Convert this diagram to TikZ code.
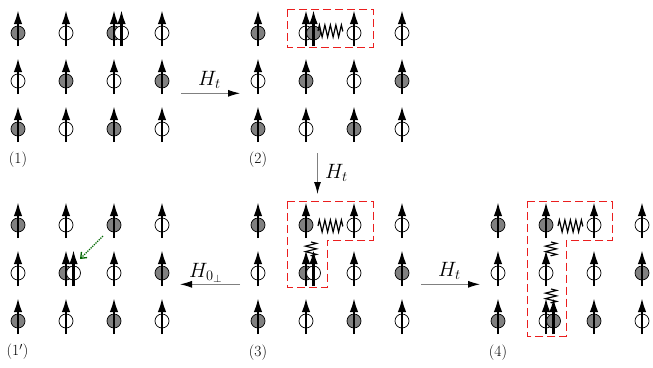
\documentclass[tikz,border=0pt]{standalone}
\usetikzlibrary{arrows.meta,decorations.pathmorphing}
\definecolor{boxred}{RGB}{235,30,30}
\tikzset{
  fullc/.style={circle,draw=black,fill=gray,line width=0.7pt,minimum size=14pt,inner sep=0pt},
  openc/.style={circle,draw=black,fill=white,line width=0.7pt,minimum size=14pt,inner sep=0pt},
  spinarrow/.style={line width=2.2pt,-{Latex[length=14pt,width=8.5pt]}},
  hop/.style={draw=gray,line width=0.9pt,-{Latex[length=12pt,width=7pt,color=black]}},
  hspring/.style={decorate,decoration={zigzag,segment length=5.5pt,amplitude=6pt},line width=1.2pt},
  vspring/.style={decorate,decoration={zigzag,segment length=5.5pt,amplitude=5.5pt},line width=1.2pt},
  regbox/.style={draw=boxred,color=boxred,dash pattern=on 8pt off 4pt,line width=1pt},
  panellabel/.style={font=\fontsize{15.5}{18}\selectfont,inner sep=0pt},
  hlabel/.style={font=\fontsize{21}{25}\selectfont,inner sep=0pt,anchor=base west},
  greenhop/.style={draw=green!40!black,densely dotted,line width=1.3pt,-{Straight Barb[length=5pt,width=8pt]}}
}
\newcommand{\spinsite}[4]{%
  \node[#4] (#1) at (#2,#3+1) {};
  \draw[spinarrow] ([yshift=-13pt]#1.center) -- ([yshift=23pt]#1.center);
}
\newcommand{\spinpanel}[4]{%
  \foreach \c/\r/\k in {#4} {\spinsite{#1\c\r}{#2+48*\c}{#3+48*\r}{\k}}%
}
\begin{document}
\begin{tikzpicture}[x=1pt,y=-1pt]
\useasboundingbox (0,0) rectangle (653,367);
% dashed regions
\draw[regbox] (287,9) rectangle (373,47);
\draw[regbox] (287,201.7) -- (373,201.7) -- (373,240) -- (327,240) -- (327,287.3) -- (287,287.3) -- cycle;
\draw[regbox] (527,201.7) -- (612,201.7) -- (612,240) -- (566,240) -- (566,336) -- (527,336) -- cycle;
% panel (1)
\spinpanel{A}{18}{32}{0/0/fullc,1/0/openc,2/0/fullc,3/0/openc,0/1/openc,1/1/fullc,2/1/openc,3/1/fullc,0/2/fullc,1/2/openc,2/2/fullc,3/2/openc}
\spinsite{Ax}{121.5}{32}{openc}
% panel (2)
\spinpanel{B}{258}{32}{0/0/fullc,1/0/openc,2/0/openc,3/0/openc,0/1/openc,1/1/fullc,2/1/openc,3/1/fullc,0/2/fullc,1/2/openc,2/2/fullc,3/2/openc}
\spinsite{Bx}{313.5}{32}{fullc}
% panel (3)
\spinpanel{C}{258}{224}{0/0/fullc,1/0/fullc,2/0/openc,3/0/openc,0/1/openc,1/1/fullc,2/1/openc,3/1/fullc,0/2/fullc,1/2/openc,2/2/fullc,3/2/openc}
\spinsite{Cx}{313.5}{272}{openc}
% panel (4)
\spinpanel{D}{498}{224}{0/0/fullc,1/0/fullc,2/0/openc,3/0/openc,0/1/openc,1/1/openc,2/1/openc,3/1/fullc,0/2/fullc,1/2/openc,2/2/fullc,3/2/openc}
\spinsite{Dx}{553.5}{320}{fullc}
% panel (1')
\spinpanel{P}{18}{224}{0/0/fullc,1/0/openc,2/0/fullc,3/0/openc,0/1/openc,1/1/fullc,2/1/openc,3/1/fullc,0/2/fullc,1/2/openc,2/2/fullc,3/2/openc}
\spinsite{Px}{73.5}{272}{openc}
% springs
\draw[hspring] ([xshift=12pt,yshift=2pt]B10.center) -- ([xshift=37pt,yshift=2pt]B10.center);
\draw[hspring] ([xshift=12pt,yshift=-1pt]C10.center) -- ([xshift=37pt,yshift=-1pt]C10.center);
\draw[vspring] ([xshift=5pt,yshift=-17pt]C10.center) -- ([xshift=5pt,yshift=-31pt]C10.center);
\draw[hspring] ([xshift=12pt,yshift=-1pt]D10.center) -- ([xshift=37pt,yshift=-1pt]D10.center);
\draw[vspring] ([xshift=5pt,yshift=-17pt]D10.center) -- ([xshift=5pt,yshift=-31pt]D10.center);
\draw[vspring] ([xshift=5pt,yshift=-16pt]D11.center) -- ([xshift=5pt,yshift=-30pt]D11.center);
% green arrow
\coordinate (g1) at (103,236);
\coordinate (g2) at (80,259);
\draw[greenhop] (g1) -- (g2);
% connectors
\coordinate (h1s) at (181,93.3);
\coordinate (h1e) at (240,93.3);
\coordinate (v1s) at (317.5,153);
\coordinate (v1e) at (317.5,194);
\coordinate (h2s) at (240,284.3);
\coordinate (h2e) at (180,284.3);
\coordinate (h3s) at (421,284.3);
\coordinate (h3e) at (480,284.3);
\draw[hop] (h1s) -- (h1e);
\draw[hop] (v1s) -- (v1e);
\draw[hop] (h2s) -- (h2e);
\draw[hop] (h3s) -- (h3e);
\node[hlabel] (l1) at (198,85) {$H_t$};
\node[hlabel] (l2) at (325,178) {$H_t$};
\node[hlabel] (l3) at (189,277) {$H_{0_\perp}$};
\node[hlabel] (l4) at (438,276) {$H_t$};
% panel labels
\node[panellabel] (n1) at (18,160) {(1)};
\node[panellabel] (n2) at (258,160) {(2)};
\node[panellabel] (n1p) at (17.5,352) {(1$'$)};
\node[panellabel] (n3) at (258,353) {(3)};
\node[panellabel] (n4) at (498,353) {(4)};
\end{tikzpicture}
\end{document}
